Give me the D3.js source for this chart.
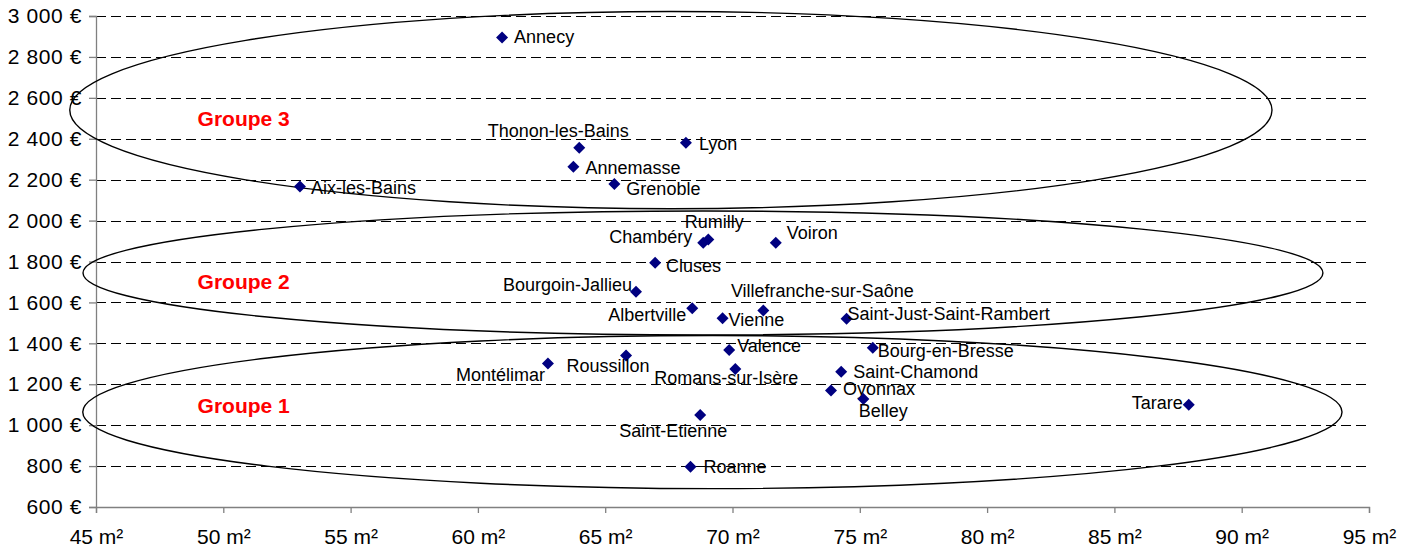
<!DOCTYPE html>
<html>
<head>
<meta charset="utf-8">
<script src="https://cdn.jsdelivr.net/npm/d3@7"></script>
<style>
  body { margin: 0; background: #fff; }
  svg text { font-family: Arial, "Liberation Sans", sans-serif; }
</style>
</head>
<body>
<div id="chart"></div>
<script>
// Data: surface (m²) vs price (€) per city
var cities = ["Annecy", "Thonon-les-Bains", "Lyon", "Annemasse", "Grenoble", "Aix-les-Bains",
    "Chambéry", "Rumilly", "Voiron", "Cluses", "Bourgoin-Jallieu", "Albertville", "Vienne",
    "Villefranche-sur-Saône", "Saint-Just-Saint-Rambert", "Valence", "Bourg-en-Bresse",
    "Montélimar", "Roussillon", "Romans-sur-Isère", "Saint-Chamond", "Oyonnax", "Belley",
    "Saint-Etienne", "Roanne", "Tarare"];
var surfaces = [60.95, 63.98, 68.17, 63.75, 65.36, 53.01,
    68.85, 69.05, 71.70, 66.96, 66.21, 68.42, 69.61,
    71.21, 74.48, 69.87, 75.51,
    62.75, 65.82, 70.11, 74.27, 73.87, 75.14,
    68.73, 68.35, 87.92];
var prices = [2895, 2356, 2381, 2263, 2179, 2166,
    1892, 1908, 1892, 1794, 1652, 1571, 1522,
    1560, 1520, 1367, 1378,
    1302, 1341, 1275, 1261, 1170, 1128,
    1050, 797, 1100];

var xTicks = [45, 50, 55, 60, 65, 70, 75, 80, 85, 90, 95];
var yTicks = [600, 800, 1000, 1200, 1400, 1600, 1800, 2000, 2200, 2400, 2600, 2800, 3000];

// Groups drawn as ellipses (centre and radii in data units)
var groupNames = ["Groupe 3", "Groupe 2", "Groupe 1"];
var groupCx = [67.58, 68.84, 69.21];
var groupCy = [2540, 1744, 1064];
var groupRx = [23.61, 24.35, 24.73];
var groupRy = [482, 303, 374];
var groupLabelX = [50.8, 50.8, 50.8];
var groupLabelY = [2500, 1700, 1098];

// label placement relative to each marker (pixels)
var labelPos = {
    "Annecy": ["start", 12, 0],
    "Thonon-les-Bains": ["middle", -21, -17],
    "Lyon": ["start", 13, 1],
    "Annemasse": ["start", 12, 1],
    "Grenoble": ["start", 12, 5],
    "Aix-les-Bains": ["start", 11, 1],
    "Chambéry": ["end", -11, -6],
    "Rumilly": ["middle", 6, -17],
    "Voiron": ["start", 11, -10],
    "Cluses": ["start", 11, 3],
    "Bourgoin-Jallieu": ["end", -4, -7],
    "Albertville": ["end", -6, 7],
    "Vienne": ["start", 6, 2],
    "Villefranche-sur-Saône": ["middle", 59, -20],
    "Saint-Just-Saint-Rambert": ["start", 1, -5],
    "Valence": ["start", 8, -4],
    "Bourg-en-Bresse": ["start", 5, 3],
    "Montélimar": ["end", -3, 12],
    "Roussillon": ["middle", -18, 11],
    "Romans-sur-Isère": ["middle", -9, 9],
    "Saint-Chamond": ["start", 12, 0],
    "Oyonnax": ["start", 12, -1],
    "Belley": ["middle", 20, 12],
    "Saint-Etienne": ["middle", -27, 16],
    "Roanne": ["start", 13, 0],
    "Tarare": ["end", -6, -2]
};

var svgWidth = 1415;
var svgHeight = 551;

var margin = { top: 16, right: 46, bottom: 44, left: 96 };
var width = svgWidth - margin.left - margin.right;
var height = svgHeight - margin.top - margin.bottom;

var svg = d3.select("#chart")
    .append("svg")
    .attr("width", svgWidth)
    .attr("height", svgHeight);

var chartGroup = svg.append("g")
    .attr("transform", `translate(${margin.left}, ${margin.top})`);

var xScale = d3.scaleLinear().domain([45, 95]).range([0, width]);
var yScale = d3.scaleLinear().domain([600, 3000]).range([height, 0]);

// Dashed gridlines
chartGroup.append("g")
    .selectAll("line")
    .data(yTicks.filter(d => d > 600))
    .enter()
    .append("line")
    .attr("x1", 0)
    .attr("x2", width)
    .attr("y1", d => Math.round(yScale(d)) + 0.5)
    .attr("y2", d => Math.round(yScale(d)) + 0.5)
    .attr("stroke", "#000")
    .attr("stroke-width", 1)
    .attr("stroke-dasharray", "10,5");

// Axes
var fmtPrice = d => d3.format(",")(d).replace(",", "\u00a0") + "\u00a0€";

var xAxis = chartGroup.append("g")
    .attr("transform", `translate(0, ${height})`)
    .call(d3.axisBottom(xScale).tickValues(xTicks).tickSize(6).tickPadding(16)
        .tickFormat(d => d + " m²"));

var yAxis = chartGroup.append("g")
    .call(d3.axisLeft(yScale).tickValues(yTicks).tickSize(7).tickPadding(7)
        .tickFormat(fmtPrice));

[xAxis, yAxis].forEach(ax => {
    ax.select(".domain").attr("stroke", "#808080").attr("stroke-width", 1.3);
    ax.selectAll(".tick line").attr("stroke", "#808080").attr("stroke-width", 1.3);
    ax.selectAll(".tick text")
        .attr("fill", "#000")
        .style("font-size", "21px")
        .style("font-family", "Arial, 'Liberation Sans', sans-serif");
});
yAxis.selectAll(".tick text").style("letter-spacing", "0.6px");

// Ellipses
chartGroup.append("g")
    .selectAll("ellipse")
    .data(groupNames)
    .enter()
    .append("ellipse")
    .attr("cx", (d, i) => xScale(groupCx[i]))
    .attr("cy", (d, i) => yScale(groupCy[i]))
    .attr("rx", (d, i) => xScale(groupCx[i] + groupRx[i]) - xScale(groupCx[i]))
    .attr("ry", (d, i) => yScale(groupCy[i] - groupRy[i]) - yScale(groupCy[i]))
    .attr("fill", "none")
    .attr("stroke", "#000")
    .attr("stroke-width", 1.4);

// Group labels
chartGroup.append("g")
    .selectAll("text")
    .data(groupNames)
    .enter()
    .append("text")
    .attr("x", (d, i) => xScale(groupLabelX[i]))
    .attr("y", (d, i) => yScale(groupLabelY[i]))
    .attr("text-anchor", "middle")
    .attr("dominant-baseline", "central")
    .attr("fill", "#ff0000")
    .style("font-size", "21px")
    .style("font-weight", "bold")
    .text(d => d);

// Points + labels
var points = chartGroup.append("g")
    .selectAll("g")
    .data(cities)
    .enter()
    .append("g")
    .attr("transform", (d, i) => `translate(${xScale(surfaces[i])}, ${yScale(prices[i])})`);

points.append("path")
    .attr("d", d3.symbol(d3.symbolSquare, 72)())
    .attr("transform", "rotate(45)")
    .attr("fill", "#000080");

points.append("text")
    .attr("x", d => labelPos[d][1])
    .attr("y", d => labelPos[d][2])
    .attr("text-anchor", d => labelPos[d][0])
    .attr("dominant-baseline", "central")
    .attr("fill", "#000")
    .style("font-size", "18px")
    .text(d => d);
</script>
</body>
</html>
